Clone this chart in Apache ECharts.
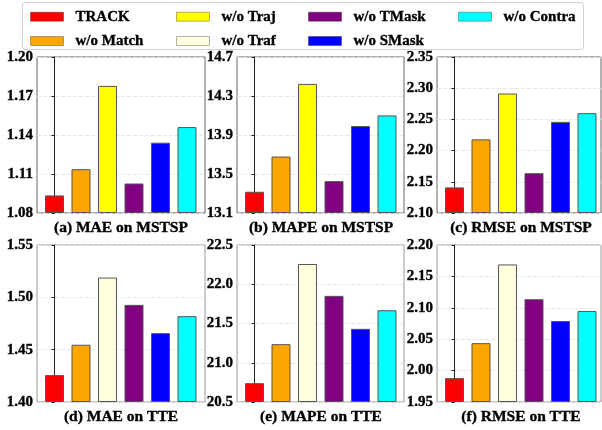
<!DOCTYPE html>
<html>
<head>
<meta charset="utf-8">
<script src="https://cdn.jsdelivr.net/npm/echarts@6/dist/echarts.min.js"></script>
<style>html,body{margin:0;padding:0;background:#fff}#c{width:602px;height:430px}</style>
</head>
<body>
<div id="c"></div>
<script>
const methodsTop = ['TRACK', 'w/o Match', 'w/o Traj', 'w/o TMask', 'w/o SMask', 'w/o Contra'];
const methodsBottom = ['TRACK', 'w/o Match', 'w/o Traf', 'w/o TMask', 'w/o SMask', 'w/o Contra'];
const methodColors = {
  'TRACK': '#ff0000', 'w/o Match': '#ffa500', 'w/o Traj': '#ffff00', 'w/o Traf': '#ffffe0',
  'w/o TMask': '#800080', 'w/o SMask': '#0000ff', 'w/o Contra': '#00ffff'
};
const maeMSTSP  = [1.0935, 1.1137, 1.1778, 1.1027, 1.1341, 1.1461];
const mapeMSTSP = [13.318, 13.679, 14.424, 13.427, 13.992, 14.101];
const rmseMSTSP = [2.141, 2.218, 2.2915, 2.1638, 2.246, 2.260];
const maeTTE    = [1.4257, 1.4547, 1.5189, 1.4928, 1.4658, 1.482];
const mapeTTE   = [20.74, 21.237, 22.258, 21.852, 21.432, 21.669];
const rmseTTE   = [1.988, 2.0437, 2.169, 2.1137, 2.079, 2.095];
const ticksA = ['1.08', '1.11', '1.14', '1.17', '1.20'];
const ticksB = ['13.1', '13.5', '13.9', '14.3', '14.7'];
const ticksC = ['2.10', '2.15', '2.20', '2.25', '2.30', '2.35'];
const ticksD = ['1.40', '1.45', '1.50', '1.55'];
const ticksE = ['20.5', '21.0', '21.5', '22.0', '22.5'];
const ticksF = ['1.95', '2.00', '2.05', '2.10', '2.15', '2.20'];
const titles = ['(a) MAE on MSTSP', '(b) MAPE on MSTSP', '(c) RMSE on MSTSP',
                '(d) MAE on TTE', '(e) MAPE on TTE', '(f) RMSE on TTE'];

const panels = [
  {methods: methodsTop, values: maeMSTSP, ticks: ticksA},
  {methods: methodsTop, values: mapeMSTSP, ticks: ticksB},
  {methods: methodsTop, values: rmseMSTSP, ticks: ticksC},
  {methods: methodsBottom, values: maeTTE, ticks: ticksD},
  {methods: methodsBottom, values: mapeTTE, ticks: ticksE},
  {methods: methodsBottom, values: rmseTTE, ticks: ticksF}
];

const FONT = '"Liberation Serif", "Times New Roman", serif';
const lefts = [37, 237, 437];
const widths = [168, 167, 164];
const tops = [57, 245];
const heights = [156, 157];
const firstOffset = 17.5, spacing = 26.5;
const heavy = {textBorderColor: '#000', textBorderWidth: 0.35};

const grids = [], xAxes = [], yAxes = [], series = [], titleList = [];
panels.forEach((p, k) => {
  const col = k % 3, row = Math.floor(k / 3);
  const w = widths[col];
  grids.push({left: lefts[col], top: tops[row], width: w, height: heights[row],
    show: true, borderColor: row === 0 ? '#666' : '#999', borderWidth: 1, backgroundColor: 'transparent'});
  xAxes.push({type: 'value', gridIndex: k, min: -firstOffset / spacing, max: (w - firstOffset) / spacing,
    axisLine: {show: false}, axisTick: {show: false}, axisLabel: {show: false}, splitLine: {show: false}});
  const base = parseFloat(p.ticks[0]);
  const step = +(parseFloat(p.ticks[1]) - base).toFixed(6);
  const range = +(parseFloat(p.ticks[p.ticks.length - 1]) - base).toFixed(6);
  yAxes.push({type: 'value', gridIndex: k, min: 0, max: range, interval: step,
    axisLine: {show: true, lineStyle: {color: '#222', width: 1}},
    axisTick: {show: true, length: 3, lineStyle: {color: '#222'}},
    axisLabel: Object.assign({margin: 4, fontFamily: FONT, fontWeight: 'bold', fontSize: 15, color: '#000',
      formatter: v => p.ticks[Math.round(v / step)]}, heavy),
    splitLine: {show: true, lineStyle: {color: '#e6e6e6', type: 'dashed', width: 1}}});
  p.methods.forEach((m, i) => {
    series.push({type: 'bar', name: m, xAxisIndex: k, yAxisIndex: k,
      data: [[i, +(p.values[i] - base).toFixed(6)]], barWidth: 19, barGap: '-100%',
      itemStyle: {color: methodColors[m], borderColor: '#555', borderWidth: 1}});
  });
  titleList.push({text: titles[k], left: lefts[col] + 84, textAlign: 'center',
    top: row === 0 ? 220 : 409, padding: 0,
    textStyle: Object.assign({fontFamily: FONT, fontWeight: 'bold', fontSize: 15.5, color: '#000'}, heavy)});
});

const legendCols = [['TRACK', 'w/o Match'], ['w/o Traj', 'w/o Traf'], ['w/o TMask', 'w/o SMask'], ['w/o Contra']];
const legendLefts = [30, 176, 308, 458];
const legends = legendCols.map((d, i) => ({
  data: d, orient: 'vertical', left: legendLefts[i], top: 9, padding: 0,
  itemWidth: 33, itemHeight: 9, itemGap: 9, icon: 'rect', selectedMode: false,
  itemStyle: {borderColor: 'rgba(0,0,0,0.3)', borderWidth: 1},
  textStyle: Object.assign({fontFamily: FONT, fontWeight: 'bold', fontSize: 15, color: '#000', lineHeight: 15,
    padding: [0, 0, 0, 7]}, heavy)
}));

const chart = echarts.init(document.getElementById('c'), null, {renderer: 'canvas'});
chart.setOption({
  animation: false,
  backgroundColor: '#fff',
  title: titleList,
  legend: legends,
  graphic: [{type: 'rect', z: -10, shape: {x: 22.5, y: 2.5, width: 561, height: 47, r: 3},
    style: {fill: '#fff', stroke: '#d0d0d0', lineWidth: 1}}],
  grid: grids,
  xAxis: xAxes,
  yAxis: yAxes,
  series: series
});
</script>
</body>
</html>
